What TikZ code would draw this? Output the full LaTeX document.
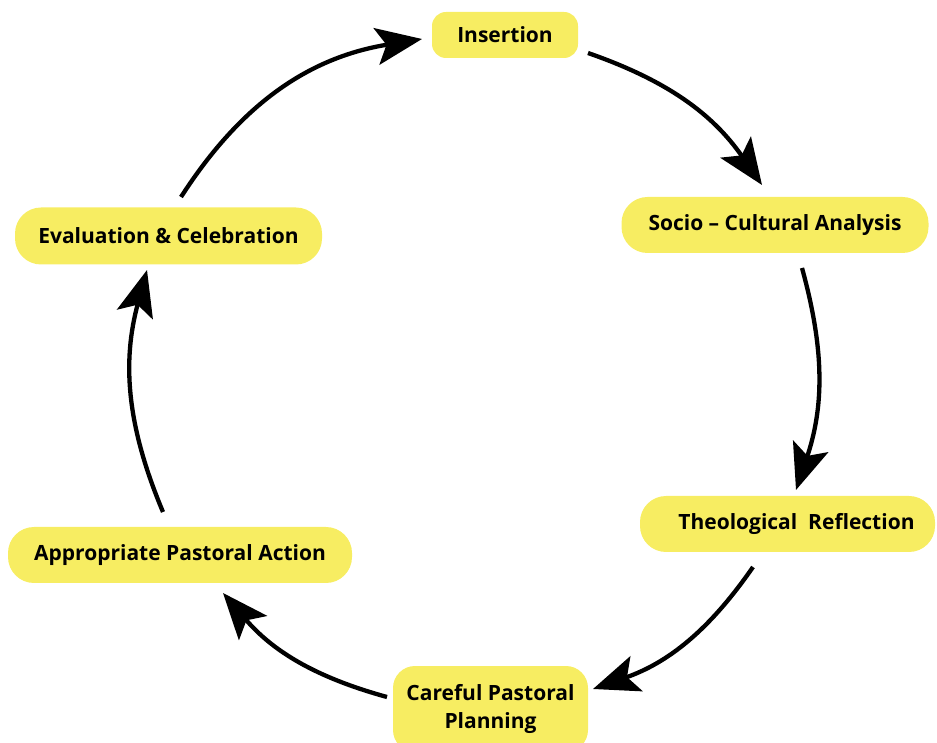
\documentclass[tikz,border=0pt]{standalone}
\usepackage{fontspec}
\setmainfont{Open Sans}
\usetikzlibrary{arrows.meta,calc}
\definecolor{boxyellow}{HTML}{F7ED62}
\tikzset{
  stagebox/.style={fill=boxyellow, draw=none, font=\fontsize{21}{28}\selectfont\bfseries, text=black, inner sep=0pt, align=center},
  cyclearrow/.style={line width=4.3pt, -{Stealth[length=46pt,width=37pt,inset=10pt]}},
}
\begin{document}
\begin{tikzpicture}[x=1pt,y=1pt]
\useasboundingbox (0,0) rectangle (937,742);
\clip (0,0) rectangle (937,742);
% nodes
\node[stagebox, minimum width=146pt, minimum height=46pt, rounded corners=14pt] (ins) at (505,707) {Insertion};
\node[stagebox, minimum width=307pt, minimum height=56pt, rounded corners=26pt] (soc) at (775,517) {Socio – Cultural Analysis};
\node[stagebox, minimum width=295pt, minimum height=56pt, rounded corners=26pt] (theo) at (787.5,218) {\hspace*{18pt}Theological\ \ Reflection};
\node[stagebox, minimum width=195pt, minimum height=86pt, rounded corners=22pt] (car) at (490.5,33) {Careful Pastoral\\Planning};
\node[stagebox, minimum width=344pt, minimum height=56pt, rounded corners=26pt] (app) at (180,187) {Appropriate Pastoral Action};
\node[stagebox, minimum width=307pt, minimum height=57pt, rounded corners=26pt] (eva) at (168.5,506) {Evaluation \& Celebration};
% connector ends
\coordinate (s1) at (588,689); \coordinate (e1) at (762,557);
\coordinate (s2) at (802,474); \coordinate (e2) at (796,252);
\coordinate (s3) at (753,175); \coordinate (e3) at (593,53);
\coordinate (s4) at (387,45);  \coordinate (e4) at (223,149);
\coordinate (s5) at (163,230); \coordinate (e5) at (147,472);
\coordinate (s6) at (181,545); \coordinate (e6) at (422,703);
% connectors
\draw[cyclearrow] (s1) to[bend left=18] (e1);
\draw[cyclearrow] (s2) to[bend left=17] (e2);
\draw[cyclearrow] (s3) to[bend left=18] (e3);
\draw[cyclearrow] (s4) to[bend left=17] (e4);
\draw[cyclearrow] (s5) to[bend left=19] (e5);
\draw[cyclearrow] (s6) to[bend left=24] (e6);
\end{tikzpicture}
\end{document}
